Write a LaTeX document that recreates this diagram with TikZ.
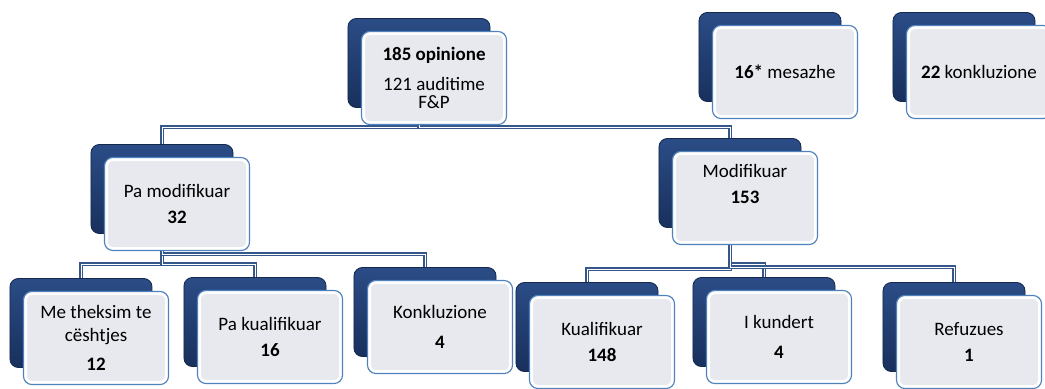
\documentclass[tikz,border=0pt]{standalone}
\usepackage{fontspec}
\setmainfont{Carlito}

\definecolor{navytop}{HTML}{2B4C86}
\definecolor{navybot}{HTML}{18305C}
\definecolor{navyedge}{HTML}{15294F}
\definecolor{frontgray}{HTML}{E8E9EE}
\definecolor{frontedge}{HTML}{4F81BD}
\definecolor{linkblue}{HTML}{36578A}

\begin{document}
\begin{tikzpicture}[x=0.025cm, y=-0.025cm,
    backbox/.style={rounded corners=6pt, minimum width=3.55cm, minimum height=2.225cm,
        top color=navytop, bottom color=navybot, draw=navyedge, line width=0.6pt},
    frontbox/.style={rounded corners=6pt, minimum width=3.625cm, minimum height=2.325cm,
        xshift=0.375cm, yshift=-0.375cm, fill=frontgray,
        draw=frontedge, line width=0.8pt, align=center, font=\fontsize{13.5}{14}\selectfont,
        path picture={\draw[white, line width=5pt, rounded corners=6pt]
            (path picture bounding box.south west) rectangle (path picture bounding box.north east);}},
    link/.style={draw=white, line width=0.7pt, preaction={draw=linkblue, line width=2.3pt}}]
    \useasboundingbox (0,0) rectangle (1045,388);

    % box centres
    \coordinate (c0) at (419,63);
    \coordinate (cm) at (770,57);
    \coordinate (ck) at (964,57);
    \coordinate (c1) at (162,189);
    \coordinate (c2) at (730,183);
    \coordinate (c11) at (81,323);
    \coordinate (c12) at (255,322);
    \coordinate (c13) at (425,312);
    \coordinate (c21) at (587,327);
    \coordinate (c22) at (764,322);
    \coordinate (c23) at (954,327);

    % connectors
    \draw[link] (c0) -- ++(0,64) -| (c1);
    \draw[link] (c0) -- ++(0,64) -| (c2);
    \draw[link] (c1) -- ++(0,75) -| (c11);
    \draw[link] (c1) -- ++(0,75) -| (c12);
    \draw[link] (c1) -- ++(0,65) -| (c13);
    \draw[link] (c2) -- ++(0,86) -| (c21);
    \draw[link] (c2) -- ++(0,81) -| (c22);
    \draw[link] (c2) -- ++(0,84) -| (c23);

    % top row
    \node[backbox] (b0) at (c0) {};
    \node[frontbox] (f0) at (c0) {\textbf{185 opinione}\\[7pt]121 auditime\\[-1pt]F\&P};
    \node[backbox] (bm) at (cm) {};
    \node[frontbox] (fm) at (cm) {\textbf{16*} mesazhe};
    \node[backbox] (bk) at (ck) {};
    \node[frontbox] (fk) at (ck) {\textbf{22} konkluzione};

    % middle row
    \node[backbox] (b1) at (c1) {};
    \node[frontbox] (f1) at (c1) {Pa modifikuar\\[5pt]\textbf{32}};
    \node[backbox] (b2) at (c2) {};
    \node[frontbox] (f2) at (c2) {Modifikuar\\[5pt]\textbf{153}\\[6pt]\mbox{}};

    % bottom row
    \node[backbox] (b11) at (c11) {};
    \node[frontbox] (f11) at (c11) {Me theksim te\\[2pt]cështjes\\[7pt]\textbf{12}};
    \node[backbox] (b12) at (c12) {};
    \node[frontbox] (f12) at (c12) {Pa kualifikuar\\[5pt]\textbf{16}};
    \node[backbox] (b13) at (c13) {};
    \node[frontbox] (f13) at (c13) {Konkluzione\\[7pt]\textbf{4}};
    \node[backbox] (b21) at (c21) {};
    \node[frontbox] (f21) at (c21) {Kualifikuar\\[5pt]\textbf{148}};
    \node[backbox] (b22) at (c22) {};
    \node[frontbox] (f22) at (c22) {I kundert\\[7pt]\textbf{4}};
    \node[backbox] (b23) at (c23) {};
    \node[frontbox] (f23) at (c23) {Refuzues\\[5pt]\textbf{1}};
\end{tikzpicture}
\end{document}
